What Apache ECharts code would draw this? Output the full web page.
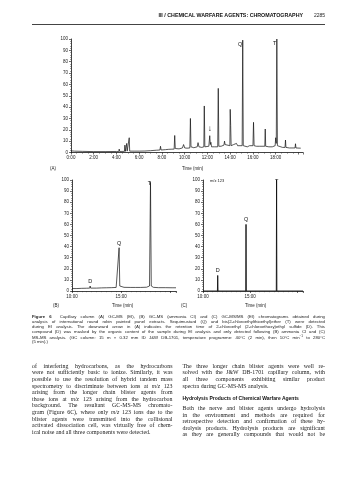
<!DOCTYPE html>
<html><head><meta charset="utf-8">
<script src="https://cdn.jsdelivr.net/npm/echarts@6/dist/echarts.min.js"></script>
<style>
html,body{margin:0;padding:0;background:#fff;}
#page{position:relative;width:356px;height:480px;overflow:hidden;background:#fff;}
#chart{position:absolute;left:0;top:0;width:356px;height:480px;}
.ln{position:absolute;white-space:nowrap;overflow:visible;color:#222;}
.jj{text-align:justify;text-align-last:justify;white-space:normal;}
.cap{font-family:"Liberation Sans",Arial,sans-serif;font-size:4.3px;}
.bod{font-family:"Liberation Serif","DejaVu Serif",serif;font-size:5.9px;}
.hd{font-family:"Liberation Sans",Arial,sans-serif;font-weight:bold;font-size:5px;color:#111;}
</style></head>
<body><div id="page"><div id="chart"></div><div id="txt"></div></div>
<script>
// ---- data ----
// (A) GC-MS (EI): [time (min), relative abundance]
const traceA = [
 [0,1.5],[0.3,1.2],[1,1.0],[2,0.8],[3,0.8],[4,0.9],[4.2,0.9],[4.24,3],[4.28,0.9],[4.7,1.0],[4.74,6.5],[4.78,1.0],
 [4.86,1.0],[4.9,8],[4.94,1.2],[5.08,1.2],[5.12,13],[5.16,1.2],[5.55,1.2],[5.6,2.2],[5.65,1.2],[6,1.2],[6.5,1.3],
 [7,1.6],[7.5,2.0],[7.82,2.2],[7.87,5.5],[7.92,2.2],[8.3,2.5],[8.6,2.8],[8.7,3.5],[8.8,2.9],[9.07,3.0],[9.12,15],
 [9.17,3.5],[9.5,3.2],[9.8,4.0],[9.9,7],[10,4.0],[10.2,3.8],[10.45,4],[10.5,30],[10.55,5],[10.8,4.2],[11.1,5],
 [11.17,8.7],[11.25,5],[11.5,4.5],[11.68,5],[11.72,41],[11.77,5],[11.9,4.6],[12.12,5.5],[12.2,14.8],[12.25,7],
 [12.3,9],[12.36,5],[12.6,5],[12.9,5],[12.95,56.5],[13,5.5],[13.2,5.5],[13.45,6.5],[13.5,10],[13.55,7],[13.7,6],
 [13.97,6],[14,38],[14.04,24],[14.08,6],[14.3,7],[14.45,6],[14.55,8],[14.65,6],[14.8,6],[15.05,6],[15.1,99],
 [15.15,6],[15.3,6.5],[15.5,5],[15.7,6],[16,6],[16.05,26.6],[16.1,6],[16.3,5.5],[16.6,5.5],[17.04,5.5],[17.08,20.7],
 [17.12,5.5],[17.4,5],[17.7,5],[17.95,6],[18,13],[18.05,8],[18.1,100],[18.15,6],[18.3,5],[18.6,4.5],[18.82,4.5],
 [18.86,11],[18.9,4.5],[19.2,4],[19.7,4],[19.74,7.7],[19.78,4],[20.2,3.8]
];
// (B) GC-MS (ammonia CI)
const traceB = [
 [10,2.2],[10.5,2.2],[11,2.4],[11.5,2.5],[11.8,2.6],[11.85,4.5],[11.9,2.6],[12.5,2.6],[13,2.8],[13.5,2.9],[14,3.0],
 [14.5,3.2],[14.7,4],[14.8,39],[14.87,4.5],[15,3.6],[15.3,3.3],[16,3.2],[16.5,3.2],[17,3.2],[17.6,3.4],[17.9,4.5],
 [18.0,98],[18.08,4.5],[18.3,3.3],[18.8,3.0],[19.5,3.0],[20.2,2.9],[20.6,2.9]
];
// (C) GC-MS/MS (EI)
const traceC = [
 [10,0],[11.53,0],[11.56,14],[11.59,0],[14.53,0],[14.56,60],[14.59,0],[17.77,0],[17.8,100],[17.83,0],[20.6,0]
];
const peakLabelsA = [{name:'Q', t:15.1, v:99},{name:'T', t:18.1, v:100}];
const arrowA = {t:12.2, v:21};
const peakLabelsB = [{name:'D', t:11.85, v:4.5},{name:'Q', t:14.8, v:39},{name:'T', t:18.0, v:98}];
const peakLabelsC = [{name:'D', t:11.56, v:14},{name:'Q', t:14.56, v:60},{name:'T', t:17.8, v:100}];
const yTicks = [0,10,20,30,40,50,60,70,80,90,100];

// ---- chart ----
const FF = '"Liberation Sans", Arial, sans-serif';
const chart = echarts.init(document.getElementById('chart'), null, {renderer:'canvas'});
function xAx(idx, min, max, interval, minorSplit){
  return {type:'value', gridIndex:idx, min:min, max:max, interval:interval,
    axisLine:{lineStyle:{color:'#111', width:0.8}},
    axisTick:{show:true, length:2, lineStyle:{color:'#111', width:0.6}},
    minorTick:{show:true, splitNumber:minorSplit, length:1.2, lineStyle:{color:'#333', width:0.5}},
    splitLine:{show:false},
    axisLabel:{fontSize:4.5, fontFamily:FF, color:'#222', margin:3, showMaxLabel:false,
      formatter:v => (v > max - 0.7 && v !== min) ? '' : (Math.round(v) + ':00')}};
}
function yAx(idx){
  return {type:'value', gridIndex:idx, min:yTicks[0], max:yTicks[yTicks.length-1], interval:yTicks[1]-yTicks[0],
    axisLine:{show:true, lineStyle:{color:'#111', width:0.8}},
    axisTick:{show:true, length:2, lineStyle:{color:'#111', width:0.6}},
    minorTick:{show:true, splitNumber:5, length:1, lineStyle:{color:'#444', width:0.5}},
    splitLine:{show:false},
    axisLabel:{fontSize:4.5, fontFamily:FF, color:'#222', margin:3}};
}
function marks(list, pos, off){
  return {symbol:'rect', symbolSize:1, itemStyle:{color:'rgba(0,0,0,0)'}, animation:false,
    label:{show:true, color:'#111', fontSize:5.5, fontFamily:FF},
    data:list.map(p => ({coord:[p.t, p.v], label:{formatter:p.name, position:pos(p), offset:off(p), distance:1}}))};
}
const option = {
  animation:false,
  grid:[
    {left:71, top:39, width:232, height:113.5},
    {left:72, top:180, width:104, height:111},
    {left:203, top:180, width:100, height:111}
  ],
  xAxis:[xAx(0,0,20.4,2,4), xAx(1,10,20.6,5,10), xAx(2,10,20.6,5,10)],
  yAxis:[yAx(0), yAx(1), yAx(2)],
  series:[
    {type:'line', xAxisIndex:0, yAxisIndex:0, data:traceA, symbol:'none', lineStyle:{color:'#111', width:0.7},
      markPoint:{symbol:'rect', symbolSize:1, itemStyle:{color:'rgba(0,0,0,0)'},
        label:{show:true, color:'#111', fontSize:5.5, fontFamily:FF},
        data: peakLabelsA.map(p => ({coord:[p.t,p.v], label:{formatter:p.name, position:'left', distance:0, offset:[0,4]}}))
          .concat([{coord:[arrowA.t, arrowA.v], label:{formatter:'↓', position:'inside', fontSize:8, fontWeight:'bold'}}])}},
    {type:'line', xAxisIndex:1, yAxisIndex:1, data:traceB, symbol:'none', lineStyle:{color:'#111', width:0.7},
      markPoint:marks(peakLabelsB, p => 'top', p => p.name==='T' ? [-1,6] : [0,0])},
    {type:'line', xAxisIndex:2, yAxisIndex:2, data:traceC, symbol:'none', lineStyle:{color:'#111', width:0.9},
      markPoint:marks(peakLabelsC, p => 'top', p => p.name==='T' ? [0,6] : [0,0])}
  ],
  graphic:[
    {type:'text', left:50, top:166, style:{text:'(A)', fontSize:4.5, fontFamily:FF, fill:'#222'}},
    {type:'text', left:182, top:166, style:{text:'Time (min)', fontSize:4.5, fontFamily:FF, fill:'#222'}},
    {type:'text', left:53, top:303, style:{text:'(B)', fontSize:4.5, fontFamily:FF, fill:'#222'}},
    {type:'text', left:112, top:303, style:{text:'Time (min)', fontSize:4.5, fontFamily:FF, fill:'#222'}},
    {type:'text', left:181, top:303, style:{text:'(C)', fontSize:4.5, fontFamily:FF, fill:'#222'}},
    {type:'text', left:245, top:303, style:{text:'Time (min)', fontSize:4.5, fontFamily:FF, fill:'#222'}},
    {type:'text', left:210, top:179, style:{text:'m/z 123', fontSize:4, fontFamily:FF, fill:'#222'}}
  ]
};
chart.setOption(option);

// ---- page text ----
const headerText = 'III / CHEMICAL WARFARE AGENTS: CHROMATOGRAPHY';
const pageNumber = '2285';
const captionLines = [
 '<b>Figure 6</b>&nbsp; Capillary column (A) GC-MS (EI), (B) GC-MS (ammonia CI) and (C) GC-MS/MS (EI) chromatograms obtained during',
 'analysis of international round robin painted panel extracts. Sequimustard (Q) and bis(2-chloroethylthioethyl)ether (T) were detected',
 'during EI analysis. The downward arrow in (A) indicates the retention time of 2-chloroethyl (2-chloroethoxy)ethyl sulfide (D). This',
 'compound (D) was masked by the organic content of the sample during EI analysis and only detected following (B) ammonia CI and (C)',
 'MS-MS analysis. (GC column: 15 m × 0.32 mm ID J&amp;W DB-1701, temperature programme: 40°C (2 min), then 10°C min<sup style="font-size:3px">−1</sup> to 280°C',
 '(5 min).)'
];
const leftLines = [
 'of interfering hydrocarbons, as the hydrocarbons',
 'were not sufficiently basic to ionize. Similarly, it was',
 'possible to use the resolution of hybrid tandem mass',
 'spectrometry to discriminate between ions at <i>m/z</i> 123',
 'arising from the longer chain blister agents from',
 'those ions at <i>m/z</i> 123 arising from the hydrocarbon',
 'background. The resultant GC-MS-MS chromato-',
 'gram (Figure 6C), where only <i>m/z</i> 123 ions due to the',
 'blister agents were transmitted into the collisional',
 'activated dissociation cell, was virtually free of chem-',
 'ical noise and all three components were detected.'
];
const rightLines1 = [
 'The three longer chain blister agents were well re-',
 'solved with the J&amp;W DB-1701 capillary column, with',
 'all three components exhibiting similar product',
 'spectra during GC-MS-MS analysis.'
];
const headingText = 'Hydrolysis Products of Chemical Warfare Agents';
const rightLines2 = [
 'Both the nerve and blister agents undergo hydrolysis',
 'in the environment and methods are required for',
 'retrospective detection and confirmation of these hy-',
 'drolysis products. Hydrolysis products are significant',
 'as they are generally compounds that would not be'
];
const txt = document.getElementById('txt');
function put(html, cls, x, yc, w, lh, justify){
  const d = document.createElement('div');
  d.className = 'ln ' + cls + (justify ? ' jj' : '');
  d.style.left = x + 'px'; d.style.top = (yc - lh/2) + 'px';
  d.style.height = lh + 'px'; d.style.lineHeight = lh + 'px';
  if (w) d.style.width = w + 'px';
  d.innerHTML = html; txt.appendChild(d); return d;
}
// header
const h = put(headerText, 'hd', 0, 15, 303, 6, false); h.style.textAlign = 'right'; h.style.fontSize = '5.3px';
const pn = put(pageNumber, 'cap', 300, 15, 25, 6, false); pn.style.textAlign = 'right'; pn.style.fontSize = '5px';
const rule = document.createElement('div');
rule.style.cssText = 'position:absolute;left:32px;top:23.6px;width:293px;height:1.3px;background:#444;';
txt.appendChild(rule);
// caption
captionLines.forEach((s,i) => put(s, 'cap', 32, 316 + i*5, 293, 5, i < captionLines.length-1));
// body
const L = 6.6, y0 = 366;
leftLines.forEach((s,i) => put(s, 'bod', 32, y0 + i*L, 140.5, L, i < leftLines.length-1));
rightLines1.forEach((s,i) => put(s, 'bod', 182.5, y0 + i*L, 142.5, L, i < rightLines1.length-1));
put(headingText, 'hd', 182.5, y0 + 3*L + 12.5, 142.5, L, false);
const y2 = y0 + 3*L + 22.5;
rightLines2.forEach((s,i) => put(s, 'bod', 182.5, y2 + i*L, 142.5, L, true));
</script>
</body></html>
